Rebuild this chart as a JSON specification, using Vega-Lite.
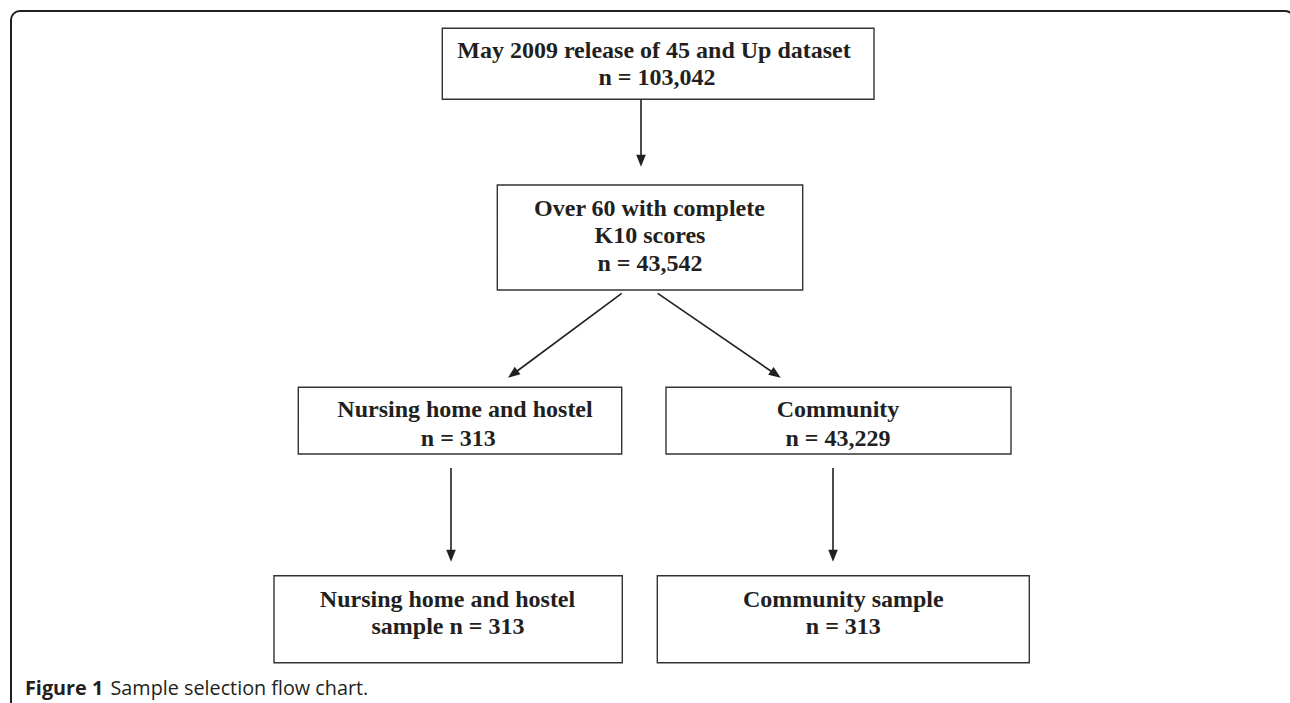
{
  "$schema": "https://vega.github.io/schema/vega-lite/v6.json",
  "width": 1290,
  "height": 703,
  "autosize": "none",
  "padding": 0,
  "background": "white",
  "config": {"view": {"stroke": null}},
  "datasets": {
    "frame": [{"x1": 11, "x2": 1294, "y1": 11, "y2": 720}],
    "boxes": [
      {"box": "release", "x1": 442.3, "x2": 874, "y1": 28.3, "y2": 99.3},
      {"box": "over60", "x1": 497.3, "x2": 802.7, "y1": 185, "y2": 290},
      {"box": "nursing", "x1": 298.3, "x2": 621.7, "y1": 387.3, "y2": 454},
      {"box": "community", "x1": 666, "x2": 1011, "y1": 387.3, "y2": 454},
      {"box": "nursing sample", "x1": 274, "x2": 622.3, "y1": 575.7, "y2": 662.7},
      {"box": "community sample", "x1": 657.3, "x2": 1029.3, "y1": 575.7, "y2": 662.7}
    ],
    "labels": [
      {"label": "May 2009 release of 45 and Up dataset", "x": 654, "y": 57.7},
      {"label": "n = 103,042", "x": 657, "y": 85},
      {"label": "Over 60 with complete", "x": 649.5, "y": 216},
      {"label": "K10 scores", "x": 650, "y": 243.3},
      {"label": "n = 43,542", "x": 650, "y": 270.7},
      {"label": "Nursing home and hostel", "x": 465, "y": 417.3},
      {"label": "n = 313", "x": 458.3, "y": 445.7},
      {"label": "Community", "x": 838, "y": 417.3},
      {"label": "n = 43,229", "x": 838, "y": 445.7},
      {"label": "Nursing home and hostel", "x": 447.5, "y": 606.7},
      {"label": "sample n = 313", "x": 448, "y": 634},
      {"label": "Community sample", "x": 843.3, "y": 606.7},
      {"label": "n = 313", "x": 843.3, "y": 634}
    ],
    "shafts": [
      {"x1": 641, "y1": 99.3, "x2": 641, "y2": 157},
      {"x1": 621.7, "y1": 293.3, "x2": 514.5, "y2": 373},
      {"x1": 657.7, "y1": 293.3, "x2": 774.5, "y2": 373.5},
      {"x1": 451, "y1": 468, "x2": 451, "y2": 552},
      {"x1": 833, "y1": 468, "x2": 833, "y2": 552}
    ],
    "headsDown": [
      {"x": 641, "y": 160.7},
      {"x": 451, "y": 555.7},
      {"x": 833, "y": 555.7}
    ],
    "headLeft": [{"x": 512.8, "y": 374.1}],
    "headRight": [{"x": 775.8, "y": 374.3}],
    "captionBold": [{"label": "Figure 1", "x": 25, "y": 695}],
    "captionText": [{"label": "Sample selection flow chart.", "x": 110.5, "y": 695}]
  },
  "layer": [
    {
      "data": {"name": "frame"},
      "mark": {"type": "rect", "fill": "transparent", "stroke": "#231f20", "strokeWidth": 2, "cornerRadius": 9, "clip": true},
      "encoding": {
        "x": {"field": "x1", "type": "quantitative", "scale": {"domain": [0, 1290], "nice": false, "zero": false}, "axis": null},
        "x2": {"field": "x2"},
        "y": {"field": "y1", "type": "quantitative", "scale": {"domain": [0, 703], "nice": false, "zero": false, "reverse": true}, "axis": null},
        "y2": {"field": "y2"}
      }
    },
    {
      "data": {"name": "boxes"},
      "mark": {"type": "rect", "fill": "white", "stroke": "#333333", "strokeWidth": 1.4},
      "encoding": {
        "x": {"field": "x1", "type": "quantitative", "scale": {"domain": [0, 1290], "nice": false, "zero": false}, "axis": null},
        "x2": {"field": "x2"},
        "y": {"field": "y1", "type": "quantitative", "scale": {"domain": [0, 703], "nice": false, "zero": false, "reverse": true}, "axis": null},
        "y2": {"field": "y2"}
      }
    },
    {
      "data": {"name": "shafts"},
      "mark": {"type": "rule", "stroke": "#231f20", "strokeWidth": 1.6},
      "encoding": {
        "x": {"field": "x1", "type": "quantitative", "scale": {"domain": [0, 1290], "nice": false, "zero": false}, "axis": null},
        "x2": {"field": "x2"},
        "y": {"field": "y1", "type": "quantitative", "scale": {"domain": [0, 703], "nice": false, "zero": false, "reverse": true}, "axis": null},
        "y2": {"field": "y2"}
      }
    },
    {
      "data": {"name": "headsDown"},
      "mark": {"type": "point", "shape": "M-0.8,-1L0.8,-1L0,1Z", "size": 144, "filled": true, "color": "#231f20", "opacity": 1, "strokeWidth": 0},
      "encoding": {
        "x": {"field": "x", "type": "quantitative", "scale": {"domain": [0, 1290], "nice": false, "zero": false}, "axis": null},
        "y": {"field": "y", "type": "quantitative", "scale": {"domain": [0, 703], "nice": false, "zero": false, "reverse": true}, "axis": null}
      }
    },
    {
      "data": {"name": "headLeft"},
      "mark": {"type": "point", "shape": "M-0.8,-1L0.8,-1L0,1Z", "size": 144, "filled": true, "color": "#231f20", "opacity": 1, "strokeWidth": 0, "angle": 53.3},
      "encoding": {
        "x": {"field": "x", "type": "quantitative", "scale": {"domain": [0, 1290], "nice": false, "zero": false}, "axis": null},
        "y": {"field": "y", "type": "quantitative", "scale": {"domain": [0, 703], "nice": false, "zero": false, "reverse": true}, "axis": null}
      }
    },
    {
      "data": {"name": "headRight"},
      "mark": {"type": "point", "shape": "M-0.8,-1L0.8,-1L0,1Z", "size": 144, "filled": true, "color": "#231f20", "opacity": 1, "strokeWidth": 0, "angle": 304.6},
      "encoding": {
        "x": {"field": "x", "type": "quantitative", "scale": {"domain": [0, 1290], "nice": false, "zero": false}, "axis": null},
        "y": {"field": "y", "type": "quantitative", "scale": {"domain": [0, 703], "nice": false, "zero": false, "reverse": true}, "axis": null}
      }
    },
    {
      "data": {"name": "labels"},
      "mark": {"type": "text", "font": "Liberation Serif", "fontWeight": "bold", "fontSize": 24, "align": "center", "baseline": "alphabetic", "color": "#231f20"},
      "encoding": {
        "x": {"field": "x", "type": "quantitative", "scale": {"domain": [0, 1290], "nice": false, "zero": false}, "axis": null},
        "y": {"field": "y", "type": "quantitative", "scale": {"domain": [0, 703], "nice": false, "zero": false, "reverse": true}, "axis": null},
        "text": {"field": "label"}
      }
    },
    {
      "data": {"name": "captionBold"},
      "mark": {"type": "text", "font": "Open Sans", "fontWeight": "bold", "fontSize": 19.8, "align": "left", "baseline": "alphabetic", "color": "#231f20"},
      "encoding": {
        "x": {"field": "x", "type": "quantitative", "scale": {"domain": [0, 1290], "nice": false, "zero": false}, "axis": null},
        "y": {"field": "y", "type": "quantitative", "scale": {"domain": [0, 703], "nice": false, "zero": false, "reverse": true}, "axis": null},
        "text": {"field": "label"}
      }
    },
    {
      "data": {"name": "captionText"},
      "mark": {"type": "text", "font": "Open Sans", "fontWeight": "normal", "fontSize": 19.8, "align": "left", "baseline": "alphabetic", "color": "#231f20"},
      "encoding": {
        "x": {"field": "x", "type": "quantitative", "scale": {"domain": [0, 1290], "nice": false, "zero": false}, "axis": null},
        "y": {"field": "y", "type": "quantitative", "scale": {"domain": [0, 703], "nice": false, "zero": false, "reverse": true}, "axis": null},
        "text": {"field": "label"}
      }
    }
  ]
}
